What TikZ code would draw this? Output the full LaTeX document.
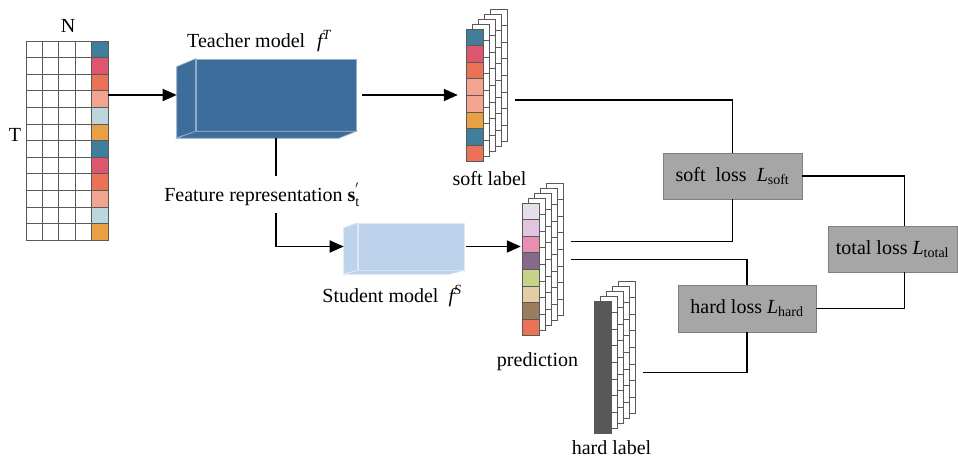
\documentclass[tikz,border=0pt]{standalone}
\usepackage{fontspec}
\setmainfont{Liberation Serif}
\usetikzlibrary{%
  arrows.meta,%
  fit,% wg. stacks
  positioning% wg. " of "
}

\definecolor{ctealc}{HTML}{3F7F9B}
\definecolor{cpink}{HTML}{DD5670}
\definecolor{corange}{HTML}{EA7257}
\definecolor{csalmon}{HTML}{F2A491}
\definecolor{cice}{HTML}{B9D7DD}
\definecolor{camber}{HTML}{E8A043}
\definecolor{plav}{HTML}{E5DFE9}
\definecolor{plilac}{HTML}{E2C4E1}
\definecolor{prose}{HTML}{E88FB0}
\definecolor{pplum}{HTML}{856A8B}
\definecolor{polive}{HTML}{C5D387}
\definecolor{pbeige}{HTML}{E3CCA6}
\definecolor{pbrown}{HTML}{9B7D5E}
\definecolor{hdark}{HTML}{575757}
\definecolor{tblue}{HTML}{3D6E9B}
\definecolor{sblue}{HTML}{BDD3EC}
\definecolor{lossgray}{HTML}{A6A6A6}

% stack of label columns: name, left x, top y, colours of front column
\newcommand{\labelstack}[4]{%
  \foreach \k in {4,3,2,1}
    \foreach \r in {0,...,7}
      \draw[cell, fill=white] (#2+6*\k, #3-5*\k+16.6*\r) rectangle ++(17,16.6);
  \foreach \c [count=\r from 0] in {#4}
    \draw[cell, fill=\c] (#2, #3+16.6*\r) rectangle ++(17,16.6);
  \node[fit={(#2,#3-20) (#2+41,#3+132.8)}, inner xsep=8pt, inner ysep=0pt] (#1) {};
}

\begin{document}
\begin{tikzpicture}[x=1pt, y=-1pt,
    every node/.style={font=\fontsize{20}{24}\selectfont},
    cell/.style={draw=black!65, line width=0.7pt},
    conn/.style={line width=1.8pt, black},
    arr/.style={conn, -{Triangle[length=14pt,width=12pt]}},
    teacherface/.style={fill=tblue, draw=tblue!55!white, line width=0.6pt, inner sep=0pt},
    studentface/.style={fill=sblue, draw=sblue!50!white, line width=0.6pt, inner sep=0pt},
    loss/.style={fill=lossgray, draw=black!50, line width=0.8pt, inner sep=0pt}]
    \useasboundingbox (0,0) rectangle (958,457);

    %input matrix
    \foreach \r in {0,...,11}
      \foreach \c in {0,...,3}
        \draw[cell] (26+16.4*\c, 41+16.6*\r) rectangle ++(16.4,16.6);
    \foreach \c [count=\r from 0] in {ctealc,cpink,corange,csalmon,cice,camber,ctealc,cpink,corange,csalmon,cice,camber}
      \draw[cell, fill=\c] (91.6, 41+16.6*\r) rectangle ++(16.4,16.6);
    \node[minimum width=82pt, minimum height=199.2pt, inner sep=0pt] (input) at (67,140.6) {};
    \node[anchor=base] (nlab) at (68,33) {N};
    \node[anchor=base] (tlab) at (15,142) {T};

    %teacher
    \node[teacherface, minimum width=160pt, minimum height=72pt] (teacher) at (276,95) {};
    \draw[teacherface] (teacher.north west) -- ++(-19,8) -- ++(0,71) -- (teacher.south west) -- cycle;
    \draw[teacherface] (teacher.south west) -- ++(-19,7) -- ++(162,0) -- (teacher.south east) -- cycle;
    \node[anchor=base west, inner sep=0pt] (teacherlab) at (187,47.5) {Teacher model\hspace{12pt}$\mathit{f}^{\mathit{T}}$};

    %student
    \node[studentface, minimum width=106pt, minimum height=47pt] (student) at (411,246.5) {};
    \draw[studentface] (student.north west) -- ++(-14,5) -- ++(0,46) -- (student.south west) -- cycle;
    \draw[studentface] (student.south west) -- ++(-14,4) -- ++(106,0) -- (student.south east) -- cycle;
    \node[anchor=base] (studentlab) at (392,302) {Student model\ \ $\mathit{f}^{\mathit{S}}$};

    \node[anchor=base, text height=25pt, text depth=12pt, inner sep=0pt] (feat) at (262,201)
      {Feature representation $\mathbf{s}_{\mathrm{t}}^{'}$};

    %label stacks
    \labelstack{softlab}{466}{29}{ctealc,cpink,corange,csalmon,csalmon,camber,ctealc,corange}
    \labelstack{pred}{522}{203}{plav,plilac,prose,pplum,polive,pbeige,pbrown,corange}
    \labelstack{hardlab}{594}{301}{hdark,hdark,hdark,hdark,hdark,hdark,hdark,hdark}
    \node (softlabtxt) [below=6pt of softlab, xshift=3pt] {soft label};
    \node (predtxt) [below=13pt of pred, xshift=-5pt] {prediction};
    \node (hardlabtxt) [below=3pt of hardlab, xshift=-3pt] {hard label};

    %losses
    \node[loss, minimum width=139pt, minimum height=46pt] (softloss) at (732.5,176) {soft\ \ loss\ \ $\mathit{L}_{\mathrm{soft}}$};
    \node[loss, minimum width=129pt, minimum height=46pt] (total) at (892.5,249) {total loss $\mathit{L}_{\mathrm{total}}$};
    \node[loss, minimum width=138pt, minimum height=47pt] (hardloss) at (747,308.5) {hard loss $\mathit{L}_{\mathrm{hard}}$};

    %connectors
    \draw[arr] (input.east |- teacher.west) -- ([xshift=-19pt]teacher.west);
    \draw[arr] ([xshift=6pt]teacher.east) -- (softlab.west |- teacher.east);
    \draw[conn] ([yshift=-7pt]teacher.south) -- (teacher.south |- feat.north);
    \draw[arr] (teacher.south |- feat.south) |- ([xshift=-14pt]student.west);
    \draw[arr] ([xshift=2pt]student.east) -- ([xshift=7pt]pred.west |- student.east);
    \draw[conn] ([yshift=-15pt]softlab.east) -| (softloss.north);
    \draw[conn] ([yshift=18pt]pred.east) -| (softloss.south);
    \draw[conn] (pred.east) -| (hardloss.north);
    \draw[conn] ([yshift=-15pt]hardlab.east) -| (hardloss.south);
    \draw[conn] (softloss.east) -| ([xshift=12pt]total.north);
    \draw[conn] ([xshift=12pt]total.south) |- (hardloss.east);
\end{tikzpicture}
\end{document}
